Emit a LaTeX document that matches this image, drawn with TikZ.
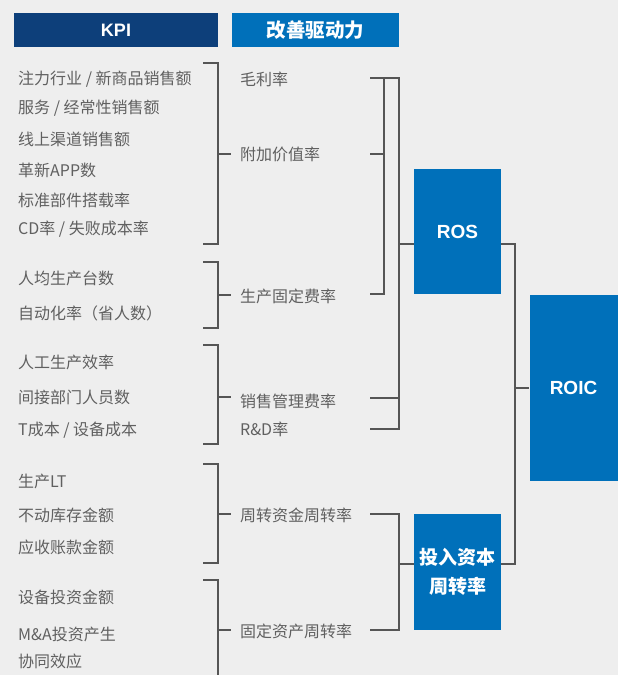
\documentclass[tikz,border=0pt]{standalone}
\usepackage{fontspec}
\setmainfont{Liberation Sans}
\newfontfamily\cjk{Noto Sans CJK SC}
\definecolor{bg}{HTML}{EEEEEE}
\definecolor{kpiblue}{HTML}{0D3F7A}
\definecolor{midblue}{HTML}{0070BA}
\definecolor{txt}{HTML}{606060}
\definecolor{ln}{HTML}{555555}
\begin{document}
\begin{tikzpicture}[x=1pt,y=-1pt,
  hdr/.style={inner sep=0pt, text=white, font=\bfseries},
  kpitxt/.style={anchor=west, inner sep=0pt, text=txt, font=\cjk\fontsize{16}{18}\selectfont},
  drvtxt/.style={anchor=west, inner sep=0pt, text=txt, font=\cjk\fontsize{16}{18}\selectfont},
  bluebox/.style={fill=midblue, inner sep=0pt, text=white, align=center},
  conn/.style={draw=ln, line width=1.1pt}
]
\fill[bg] (0,0) rectangle (618,675);
\useasboundingbox (0,0) rectangle (618,675);

% headers
\node[hdr, fill=kpiblue, minimum width=204pt, minimum height=34pt, font=\bfseries\fontsize{18}{20}\selectfont] (hkpi) at (116,30) {KPI};
\node[hdr, fill=midblue, minimum width=167pt, minimum height=34pt, font=\cjk\bfseries\fontsize{19.5}{21}\selectfont] (hdrv) at (315.5,30) {改善驱动力};

% KPI texts
\node[kpitxt] (k1) at (18,79) {注力行业 / 新商品销售额};
\node[kpitxt] (k2) at (18,108) {服务 / 经常性销售额};
\node[kpitxt] (k3) at (18,139) {线上渠道销售额};
\node[kpitxt] (k4) at (18,170) {革新APP数};
\node[kpitxt] (k5) at (18,200) {标准部件搭载率};
\node[kpitxt] (k6) at (18,229) {CD率 / 失败成本率};
\node[kpitxt] (k7) at (18,278) {人均生产台数};
\node[kpitxt] (k8) at (18,313) {自动化率（省人数）};
\node[kpitxt] (k9) at (18,362) {人工生产效率};
\node[kpitxt] (k10) at (18,397) {间接部门人员数};
\node[kpitxt] (k11) at (18,430) {T成本 / 设备成本};
\node[kpitxt] (k12) at (18,481) {生产LT};
\node[kpitxt] (k13) at (18,515) {不动库存金额};
\node[kpitxt] (k14) at (18,547) {应收账款金额};
\node[kpitxt] (k15) at (18,597) {设备投资金额};
\node[kpitxt] (k16) at (18,634) {M\&A投资产生};
\node[kpitxt] (k17) at (18,661) {协同效应};

% driver texts
\node[drvtxt] (d1) at (240,79) {毛利率};
\node[drvtxt] (d2) at (240,154) {附加价值率};
\node[drvtxt] (d3) at (240,296) {生产固定费率};
\node[drvtxt] (d4) at (240,401) {销售管理费率};
\node[drvtxt] (d5) at (240,429) {R\&D率};
\node[drvtxt] (d6) at (240,515) {周转资金周转率};
\node[drvtxt] (d7) at (240,631) {固定资产周转率};

% blue result boxes
\node[bluebox, minimum width=87pt, minimum height=125pt, font=\bfseries\fontsize{19}{21}\selectfont] (ros) at (457.5,231.5) {ROS};
\node[bluebox, minimum width=87pt, minimum height=116pt, font=\cjk\bfseries\fontsize{19}{29}\selectfont] (tzb) at (457.5,572) {投入资本\\周转率};
\node[bluebox, minimum width=88pt, minimum height=186pt, font=\bfseries\fontsize{19}{21}\selectfont] (roic) at (573.5,388) {ROIC};

% left brackets (KPI -> drivers)
\coordinate (b1t) at (218,63);  \coordinate (b1b) at (218,244);
\draw[conn] (203,63) -- (b1t) -- (b1b) -- (203,244);
\draw[conn] (218,154) -- (d2.west -| 231,0);
\coordinate (b2t) at (218,262);  \coordinate (b2b) at (218,328);
\draw[conn] (203,262) -- (b2t) -- (b2b) -- (203,328);
\draw[conn] (218,295) -- (231,295);
\coordinate (b3t) at (218,345);  \coordinate (b3b) at (218,444);
\draw[conn] (203,345) -- (b3t) -- (b3b) -- (203,444);
\draw[conn] (218,397) -- (231,397);
\coordinate (b4t) at (218,464);  \coordinate (b4b) at (218,563);
\draw[conn] (203,464) -- (b4t) -- (b4b) -- (203,563);
\draw[conn] (218,514) -- (231,514);
\coordinate (b5t) at (218,580);  \coordinate (b5b) at (218,675);
\draw[conn] (203,580) -- (b5t) -- (b5b);
\draw[conn] (218,630) -- (231,630);

% right brackets (drivers -> ROS / turnover)
\coordinate (ia) at (384,78);  \coordinate (ib) at (384,294);
\draw[conn] (370,154) -- (384,154);
\draw[conn] (370,294) -- (ib) -- (ia);
\coordinate (oa) at (399,78);  \coordinate (ob) at (399,429);
\draw[conn] (370,78) -- (oa) -- (ob) -- (370,429);
\draw[conn] (370,398) -- (399,398);
\draw[conn] (399,244) -- (ros.west |- 0,244);

\coordinate (ta) at (399,514);  \coordinate (tb) at (399,630);
\draw[conn] (370,514) -- (ta) -- (tb) -- (370,630);
\draw[conn] (399,564) -- (tzb.west |- 0,564);

% to ROIC
\coordinate (ra) at (515,244);  \coordinate (rb) at (515,564);
\draw[conn] (ros.east |- 0,244) -- (ra) -- (rb) -- (tzb.east |- 0,564);
\draw[conn] (515,388) -- (roic.west |- 0,388);
\end{tikzpicture}
\end{document}
